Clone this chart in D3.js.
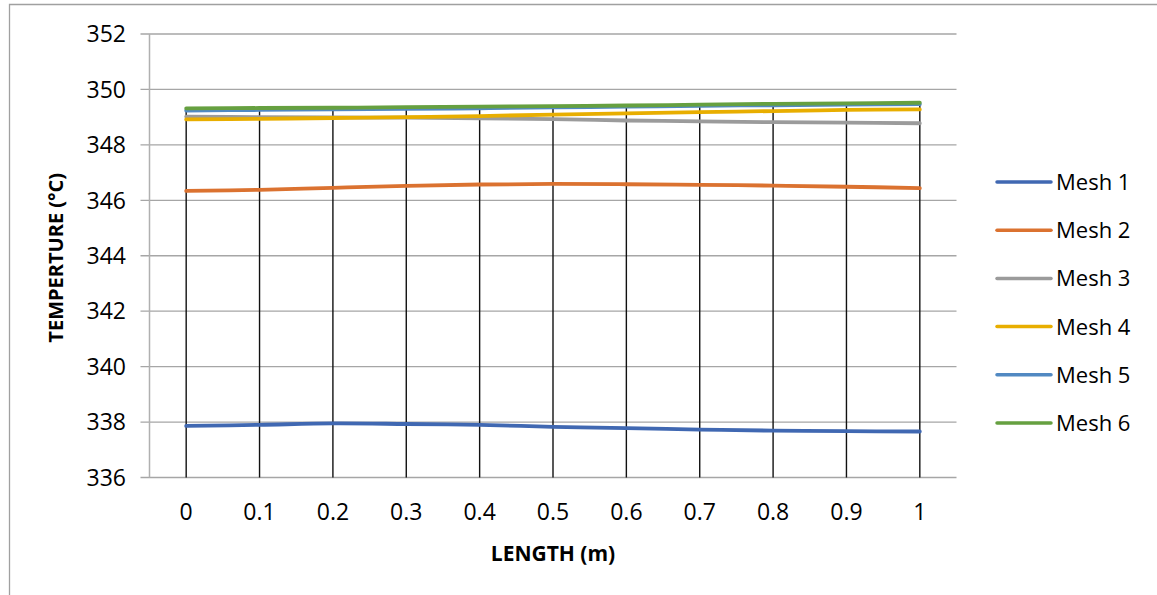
<!DOCTYPE html>
<html lang="en">
<head>
<meta charset="utf-8">
<title>Temperature along length</title>
<script src="https://cdnjs.cloudflare.com/ajax/libs/d3/7.8.5/d3.min.js"></script>
<style>
  body { margin: 0; background: #fff; }
  text { font-family: 'Open Sans', sans-serif; fill: #000; }
</style>
</head>
<body>
<div id="chart"></div>
<script>
// data
var lengths = ["0", "0.1", "0.2", "0.3", "0.4", "0.5", "0.6", "0.7", "0.8", "0.9", "1"];
var seriesNames = ["Mesh 1", "Mesh 2", "Mesh 3", "Mesh 4", "Mesh 5", "Mesh 6"];
var mesh1 = [337.86, 337.90, 337.95, 337.93, 337.90, 337.83, 337.78, 337.73, 337.69, 337.67, 337.66];
var mesh2 = [346.34, 346.38, 346.45, 346.52, 346.57, 346.59, 346.58, 346.56, 346.53, 346.49, 346.44];
var mesh3 = [349.02, 349.00, 348.99, 348.98, 348.96, 348.93, 348.88, 348.85, 348.82, 348.80, 348.78];
var mesh4 = [348.92, 348.94, 348.97, 349.00, 349.04, 349.09, 349.14, 349.18, 349.22, 349.26, 349.28];
var mesh5 = [349.24, 349.26, 349.28, 349.30, 349.32, 349.35, 349.38, 349.41, 349.43, 349.45, 349.47];
var mesh6 = [349.32, 349.33, 349.34, 349.36, 349.38, 349.40, 349.42, 349.45, 349.48, 349.50, 349.52];
var yTicks = [336, 338, 340, 342, 344, 346, 348, 350, 352];
var colors = ["#4068b2", "#db7230", "#9b9b9b", "#e8ae00", "#5189c2", "#66a040"];

var allSeries = [mesh1, mesh2, mesh3, mesh4, mesh5, mesh6];

var width = 1157, height = 595;
var plot = {left: 149.5, right: 956.5, top: 34, bottom: 477.5};

var svg = d3.select("#chart").append("svg")
    .attr("width", width)
    .attr("height", height);

// outer chart border (only top/left visible in the shot)
svg.append("path")
    .attr("d", "M9.5,595 L9.5,4.5 L1157,4.5")
    .attr("fill", "none")
    .attr("stroke", "#a0a0a0")
    .attr("stroke-width", 1.3);

var x = d3.scaleBand().domain(lengths).range([plot.left, plot.right]);
var y = d3.scaleLinear().domain([336, 352]).range([plot.bottom, plot.top]);
var cx = function(d) { return x(d) + x.bandwidth() / 2; };

// horizontal gridlines, with the little outside tick
svg.append("g").selectAll("line")
    .data(yTicks)
  .enter().append("line")
    .attr("x1", plot.left - 9)
    .attr("x2", plot.right)
    .attr("y1", function(d) { return y(d); })
    .attr("y2", function(d) { return y(d); })
    .attr("stroke", "#a6a6a6")
    .attr("stroke-width", 1.3);

// y axis line
svg.append("line")
    .attr("x1", plot.left).attr("x2", plot.left)
    .attr("y1", plot.top).attr("y2", plot.bottom)
    .attr("stroke", "#b0b0b0")
    .attr("stroke-width", 1.5);

// y tick labels
svg.append("g").selectAll("text")
    .data(yTicks)
  .enter().append("text")
    .attr("x", 126)
    .attr("y", function(d) { return y(d); })
    .attr("dy", "0.36em")
    .attr("text-anchor", "end")
    .style("font-size", "23px")
    .text(function(d) { return d; });

// x tick labels
svg.append("g").selectAll("text")
    .data(lengths)
  .enter().append("text")
    .attr("x", function(d) { return cx(d); })
    .attr("y", 520)
    .attr("text-anchor", "middle")
    .style("font-size", "23px")
    .text(function(d) { return d; });

// drop lines from the highest series down to the axis
svg.append("g").selectAll("line")
    .data(lengths)
  .enter().append("line")
    .attr("x1", function(d) { return cx(d); })
    .attr("x2", function(d) { return cx(d); })
    .attr("y1", function(d, i) { return y(d3.max(allSeries, function(s) { return s[i]; })); })
    .attr("y2", plot.bottom)
    .attr("stroke", "#111")
    .attr("stroke-width", 1.4);

// series lines
var line = d3.line()
    .x(function(d, i) { return cx(lengths[i]); })
    .y(function(d) { return y(d); })
    .curve(d3.curveCatmullRom);

svg.append("g").selectAll("path")
    .data(allSeries)
  .enter().append("path")
    .attr("d", line)
    .attr("fill", "none")
    .attr("stroke", function(d, i) { return colors[i]; })
    .attr("stroke-width", 3.8)
    .attr("stroke-linecap", "round");

// axis titles
svg.append("text")
    .attr("transform", "translate(63," + ((plot.top + plot.bottom) / 2 + 2) + ") rotate(-90)")
    .attr("text-anchor", "middle")
    .style("font-size", "20px")
    .style("font-weight", "bold")
    .text("TEMPERTURE (°C)");

svg.append("text")
    .attr("x", (plot.left + plot.right) / 2)
    .attr("y", 561)
    .attr("text-anchor", "middle")
    .style("font-size", "21px")
    .style("font-weight", "bold")
    .text("LENGTH (m)");

// legend
var legend = svg.append("g").selectAll("g")
    .data(seriesNames)
  .enter().append("g")
    .attr("transform", function(d, i) { return "translate(997," + (182 + i * 48.2) + ")"; });

legend.append("line")
    .attr("x1", 0).attr("x2", 54)
    .attr("stroke", function(d, i) { return colors[i]; })
    .attr("stroke-width", 3.5)
    .attr("stroke-linecap", "round");

legend.append("text")
    .attr("x", 59)
    .attr("dy", "0.36em")
    .style("font-size", "22px")
    .text(function(d) { return d; });
</script>
</body>
</html>
